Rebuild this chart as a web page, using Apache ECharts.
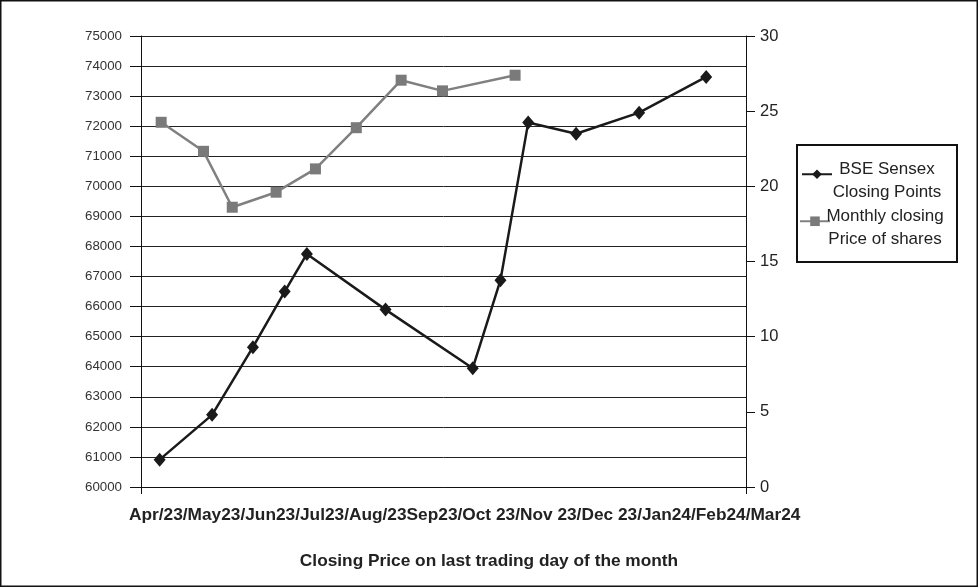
<!DOCTYPE html>
<html>
<head>
<meta charset="utf-8">
<script src="https://cdn.jsdelivr.net/npm/echarts@6/dist/echarts.min.js"></script>
<style>
html,body{margin:0;padding:0;background:#fff;}
#chart{width:978px;height:587px;}
</style>
</head>
<body>
<div id="chart"></div>
<script>
// Category label pieces as printed under the axis
var monthLabels = ["Apr/23/","May23/","Jun23/","Jul23/","Aug/23","Sep23/","Oct 23/","Nov 23/","Dec 23/","Jan24/","Feb24/","Mar24"];
var seriesNames = ["BSE Sensex Closing Points", "Monthly closing Price of shares"];
// BSE Sensex closing points (left axis), x in month units along the axis
var sensexX = [0.37, 1.41, 2.22, 2.85, 3.29, 4.85, 6.58, 7.13, 7.68, 8.63, 9.88, 11.21];
var sensexValues = [60910, 62400, 64650, 66500, 67750, 65900, 63950, 66880, 72120, 71750, 72450, 73640];
// Monthly closing price of shares (right axis)
var shareX = [0.40, 1.24, 1.81, 2.68, 3.46, 4.27, 5.16, 5.98, 7.42];
var shareValues = [24.26, 22.33, 18.61, 19.61, 21.16, 23.90, 27.06, 26.35, 27.39];
var xAxisTitle = "Closing Price on last trading day of the month";

function pairs(xs, ys){ return xs.map(function(x,i){ return [x, ys[i]]; }); }

var FONT = '"Liberation Sans", Arial, sans-serif';
var chart = echarts.init(document.getElementById('chart'));
var legendText = {
  fontFamily: FONT, fontSize: 17, color: '#222', padding: [13,0,0,0],
  rich: { a: { fontFamily: FONT, fontSize: 17, color: '#222', width: 100, align: 'center', lineHeight: 22.5 } }
};
function legendFormatter(name){
  var parts = name === seriesNames[0] ? ["BSE Sensex","Closing Points"] : ["Monthly closing","Price of shares"];
  return '{a|' + parts[0] + '}\n{a|' + parts[1] + '}';
}
chart.setOption({
  animation: false,
  backgroundColor: '#fff',
  textStyle: { fontFamily: FONT },
  title: [
    { text: monthLabels.join(''), left: 124, top: 502,
      textStyle: { fontFamily: FONT, fontSize: 17.3, fontWeight: 'bold', color: '#222' } },
    { text: xAxisTitle, left: 'center', top: 547.5,
      textStyle: { fontFamily: FONT, fontSize: 17.3, fontWeight: 'bold', color: '#222' } }
  ],
  legend: [
    { data: [seriesNames[0]], orient: 'vertical', left: 801, top: 161, padding: 0,
      itemWidth: 30, itemHeight: 12, itemGap: 5, textStyle: legendText, formatter: legendFormatter },
    { data: [seriesNames[1]], orient: 'vertical', left: 799, top: 208, padding: 0,
      itemWidth: 30, itemHeight: 12, itemGap: 5, textStyle: legendText, formatter: legendFormatter }
  ],
  graphic: [
    { type: 'rect', shape: { x: 0.75, y: 0.75, width: 976.5, height: 585.5 }, style: { fill: 'none', stroke: '#111', lineWidth: 1.5 }, silent: true, z: 0 },
    { type: 'rect', shape: { x: 797, y: 145, width: 160, height: 117 }, style: { fill: 'none', stroke: '#111', lineWidth: 2 }, silent: true }
  ],
  grid: { left: 141, right: 232, top: 36, bottom: 100 },
  xAxis: {
    type: 'value', min: 0, max: 12, interval: 12,
    axisLine: { show: true, onZero: false, lineStyle: { color: '#111', width: 1 } },
    axisTick: { show: true, length: 7, lineStyle: { color: '#111' } },
    axisLabel: { show: false },
    splitLine: { show: false }
  },
  yAxis: [
    { type: 'value', min: 60000, max: 75000, interval: 1000, position: 'left',
      axisLine: { show: true, lineStyle: { color: '#111', width: 1 } },
      axisTick: { show: true, length: 11, lineStyle: { color: '#111' } },
      axisLabel: { fontFamily: FONT, fontSize: 13.3, color: '#333', margin: 19, formatter: function(v){ return String(v); } },
      splitLine: { show: true, lineStyle: { color: '#222', width: 1 } } },
    { type: 'value', min: 0, max: 30, interval: 5, position: 'right',
      axisLine: { show: true, lineStyle: { color: '#111', width: 1 } },
      axisTick: { show: true, length: 9, lineStyle: { color: '#111' } },
      axisLabel: { fontFamily: FONT, fontSize: 16.5, color: '#222', margin: 14 },
      splitLine: { show: false } }
  ],
  series: [
    { name: seriesNames[0], type: 'line', yAxisIndex: 0, data: pairs(sensexX, sensexValues),
      symbol: 'diamond', symbolSize: [12, 14],
      lineStyle: { color: '#1a1a1a', width: 2.5 }, itemStyle: { color: '#1a1a1a' }, z: 3 },
    { name: seriesNames[1], type: 'line', yAxisIndex: 1, data: pairs(shareX, shareValues),
      symbol: 'rect', symbolSize: 11,
      lineStyle: { color: '#808080', width: 2.5 }, itemStyle: { color: '#7a7a7a' }, z: 2 }
  ]
});
</script>
</body>
</html>
